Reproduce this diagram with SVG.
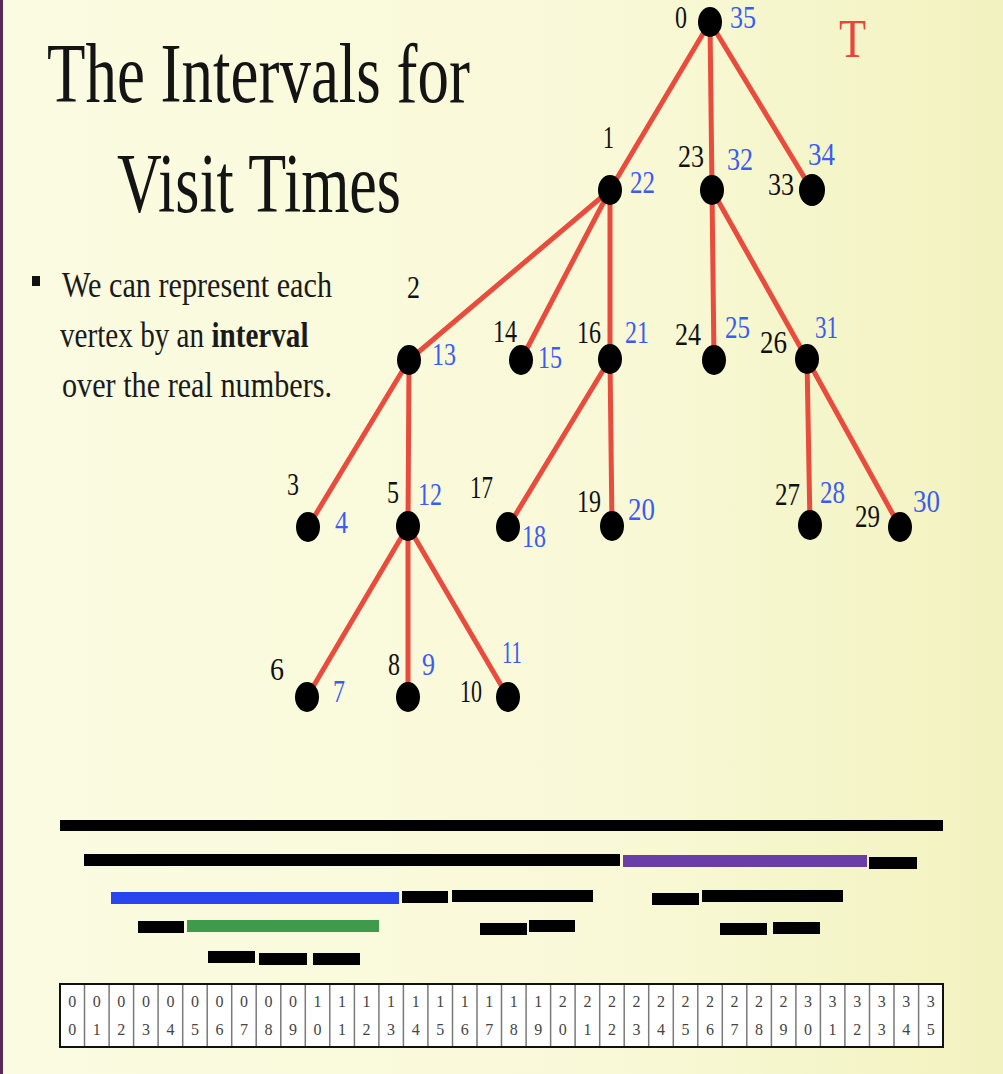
<svg xmlns="http://www.w3.org/2000/svg" width="1003" height="1074" viewBox="0 0 1003 1074">
<defs>
<linearGradient id="bg" x1="0" y1="0" x2="1" y2="0">
<stop offset="0" stop-color="#fbfbe2"/>
<stop offset="0.6" stop-color="#f9f9d8"/>
<stop offset="1" stop-color="#f2f2c0"/>
</linearGradient>
<style>
.title{font-family:"Liberation Serif",serif;font-size:84px;fill:#141414}
.body{font-family:"Liberation Serif",serif;font-size:36px;fill:#1a1a1a}
.pre{font-family:"Liberation Serif",serif;font-size:31px;fill:#111}
.post{font-family:"Liberation Serif",serif;font-size:31px;fill:#3a5cf0}
.edge{stroke:#e94b3c;stroke-width:5;stroke-linecap:round;fill:none}
.node{fill:#000}
.bar{fill:#000}
.dg{font-family:"Liberation Serif",serif;font-size:16px;fill:#444;text-anchor:middle}
</style>
</defs>
<rect x="0" y="0" width="1003" height="1074" fill="url(#bg)"/>
<rect x="0" y="0" width="3" height="1074" fill="#5a2a5a"/>

<g id="title">
<text class="title" x="47" y="102" textLength="423" lengthAdjust="spacingAndGlyphs">The Intervals for</text>
<text class="title" x="117" y="212" textLength="284" lengthAdjust="spacingAndGlyphs">Visit Times</text>
</g>
<g id="bullet">
<rect x="32" y="276" width="8" height="10" fill="#111"/>
<text class="body" x="62" y="297" textLength="270" lengthAdjust="spacingAndGlyphs">We can represent each</text>
<text class="body" transform="translate(60,347) scale(0.81,1)" x="0" y="0">vertex by an <tspan font-weight="bold">interval</tspan></text>
<text class="body" x="62" y="397" textLength="270" lengthAdjust="spacingAndGlyphs">over the real numbers.</text>
</g>
<text x="839" y="57" font-family="Liberation Serif, serif" font-size="54" fill="#e8463a" textLength="27" lengthAdjust="spacingAndGlyphs">T</text>

<g id="connectors">
<line class="edge" x1="710" y1="22" x2="610" y2="190"/>
<line class="edge" x1="710" y1="22" x2="712" y2="190"/>
<line class="edge" x1="710" y1="22" x2="812" y2="190"/>
<line class="edge" x1="610" y1="190" x2="409" y2="360"/>
<line class="edge" x1="610" y1="190" x2="521" y2="360"/>
<line class="edge" x1="610" y1="190" x2="610" y2="359"/>
<line class="edge" x1="712" y1="190" x2="714" y2="360"/>
<line class="edge" x1="712" y1="190" x2="807" y2="359"/>
<line class="edge" x1="409" y1="360" x2="308" y2="527"/>
<line class="edge" x1="409" y1="360" x2="408" y2="526"/>
<line class="edge" x1="610" y1="359" x2="508" y2="527"/>
<line class="edge" x1="610" y1="359" x2="612" y2="526"/>
<line class="edge" x1="807" y1="359" x2="810" y2="525"/>
<line class="edge" x1="807" y1="359" x2="900" y2="527"/>
<line class="edge" x1="408" y1="526" x2="307" y2="697"/>
<line class="edge" x1="408" y1="526" x2="408" y2="697"/>
<line class="edge" x1="408" y1="526" x2="508" y2="697"/>
</g>

<g id="n0"><ellipse class="node" cx="710" cy="22" rx="12" ry="15"/><text class="pre" x="675" y="28" textLength="12" lengthAdjust="spacingAndGlyphs">0</text><text class="post" x="730" y="28" textLength="26" lengthAdjust="spacingAndGlyphs">35</text></g>
<g id="n1"><ellipse class="node" cx="610" cy="190" rx="12" ry="15"/><text class="pre" x="603" y="148" textLength="11" lengthAdjust="spacingAndGlyphs">1</text><text class="post" x="630" y="193" textLength="25" lengthAdjust="spacingAndGlyphs">22</text></g>
<g id="n23"><ellipse class="node" cx="712" cy="190" rx="12" ry="15"/><text class="pre" x="678" y="167" textLength="26" lengthAdjust="spacingAndGlyphs">23</text><text class="post" x="727" y="170" textLength="26" lengthAdjust="spacingAndGlyphs">32</text></g>
<g id="n33"><ellipse class="node" cx="812" cy="190" rx="13" ry="16"/><text class="pre" x="768" y="195" textLength="26" lengthAdjust="spacingAndGlyphs">33</text><text class="post" x="808" y="165" textLength="27" lengthAdjust="spacingAndGlyphs">34</text></g>
<g id="n2"><ellipse class="node" cx="409" cy="360" rx="12" ry="15"/><text class="pre" x="407" y="298" textLength="13" lengthAdjust="spacingAndGlyphs">2</text><text class="post" x="432" y="365" textLength="24" lengthAdjust="spacingAndGlyphs">13</text></g>
<g id="n14"><ellipse class="node" cx="521" cy="360" rx="12" ry="15"/><text class="pre" x="493" y="342" textLength="24" lengthAdjust="spacingAndGlyphs">14</text><text class="post" x="538" y="368" textLength="24" lengthAdjust="spacingAndGlyphs">15</text></g>
<g id="n16"><ellipse class="node" cx="610" cy="359" rx="12" ry="15"/><text class="pre" x="577" y="343" textLength="24" lengthAdjust="spacingAndGlyphs">16</text><text class="post" x="625" y="343" textLength="24" lengthAdjust="spacingAndGlyphs">21</text></g>
<g id="n24"><ellipse class="node" cx="714" cy="360" rx="12" ry="15"/><text class="pre" x="675" y="345" textLength="26" lengthAdjust="spacingAndGlyphs">24</text><text class="post" x="725" y="338" textLength="25" lengthAdjust="spacingAndGlyphs">25</text></g>
<g id="n26"><ellipse class="node" cx="807" cy="359" rx="12" ry="15"/><text class="pre" x="760" y="353" textLength="27" lengthAdjust="spacingAndGlyphs">26</text><text class="post" x="815" y="338" textLength="23" lengthAdjust="spacingAndGlyphs">31</text></g>
<g id="n3"><ellipse class="node" cx="308" cy="527" rx="12" ry="15"/><text class="pre" x="287" y="495" textLength="12" lengthAdjust="spacingAndGlyphs">3</text><text class="post" x="335" y="533" textLength="13" lengthAdjust="spacingAndGlyphs">4</text></g>
<g id="n5"><ellipse class="node" cx="408" cy="526" rx="12" ry="15"/><text class="pre" x="387" y="503" textLength="12" lengthAdjust="spacingAndGlyphs">5</text><text class="post" x="418" y="505" textLength="24" lengthAdjust="spacingAndGlyphs">12</text></g>
<g id="n17"><ellipse class="node" cx="508" cy="527" rx="12" ry="15"/><text class="pre" x="470" y="498" textLength="23" lengthAdjust="spacingAndGlyphs">17</text><text class="post" x="522" y="547" textLength="24" lengthAdjust="spacingAndGlyphs">18</text></g>
<g id="n19"><ellipse class="node" cx="612" cy="526" rx="12" ry="15"/><text class="pre" x="577" y="512" textLength="24" lengthAdjust="spacingAndGlyphs">19</text><text class="post" x="628" y="520" textLength="27" lengthAdjust="spacingAndGlyphs">20</text></g>
<g id="n27"><ellipse class="node" cx="810" cy="525" rx="12" ry="15"/><text class="pre" x="775" y="505" textLength="25" lengthAdjust="spacingAndGlyphs">27</text><text class="post" x="820" y="503" textLength="25" lengthAdjust="spacingAndGlyphs">28</text></g>
<g id="n29"><ellipse class="node" cx="900" cy="527" rx="12" ry="15"/><text class="pre" x="855" y="527" textLength="25" lengthAdjust="spacingAndGlyphs">29</text><text class="post" x="913" y="512" textLength="27" lengthAdjust="spacingAndGlyphs">30</text></g>
<g id="n6"><ellipse class="node" cx="307" cy="697" rx="12" ry="15"/><text class="pre" x="270" y="680" textLength="14" lengthAdjust="spacingAndGlyphs">6</text><text class="post" x="333" y="702" textLength="12" lengthAdjust="spacingAndGlyphs">7</text></g>
<g id="n8"><ellipse class="node" cx="408" cy="697" rx="12" ry="15"/><text class="pre" x="388" y="675" textLength="12" lengthAdjust="spacingAndGlyphs">8</text><text class="post" x="422" y="675" textLength="13" lengthAdjust="spacingAndGlyphs">9</text></g>
<g id="n10"><ellipse class="node" cx="508" cy="697" rx="12" ry="15"/><text class="pre" x="460" y="702" textLength="22" lengthAdjust="spacingAndGlyphs">10</text><text class="post" x="502" y="663" textLength="20" lengthAdjust="spacingAndGlyphs">11</text></g>

<g id="intervals">
<rect class="bar" x="60" y="820" width="883" height="11"/>
<rect class="bar" x="84" y="854" width="536" height="12"/>
<rect x="623" y="855" width="244" height="12" fill="#6a3ea8"/>
<rect class="bar" x="869" y="857" width="48" height="12"/>
<rect x="111" y="892" width="288" height="12" fill="#2a44f0"/>
<rect class="bar" x="402" y="891" width="46" height="12"/>
<rect class="bar" x="452" y="890" width="141" height="12"/>
<rect class="bar" x="652" y="893" width="47" height="12"/>
<rect class="bar" x="702" y="890" width="141" height="12"/>
<rect class="bar" x="138" y="921" width="46" height="12"/>
<rect x="187" y="920" width="192" height="12" fill="#3f9a4c"/>
<rect class="bar" x="480" y="923" width="47" height="12"/>
<rect class="bar" x="529" y="920" width="46" height="12"/>
<rect class="bar" x="720" y="923" width="47" height="12"/>
<rect class="bar" x="773" y="922" width="47" height="12"/>
<rect class="bar" x="208" y="951" width="47" height="12"/>
<rect class="bar" x="259" y="953" width="48" height="12"/>
<rect class="bar" x="313" y="953" width="47" height="12"/>
</g>

<g id="timeline">
<rect x="60" y="984" width="883" height="63" fill="#fff" stroke="#111" stroke-width="2"/>
<path d="M84.5 985V1046M109.1 985V1046M133.6 985V1046M158.1 985V1046M182.7 985V1046M207.2 985V1046M231.7 985V1046M256.2 985V1046M280.8 985V1046M305.3 985V1046M329.8 985V1046M354.4 985V1046M378.9 985V1046M403.4 985V1046M427.9 985V1046M452.5 985V1046M477 985V1046M501.5 985V1046M526.1 985V1046M550.6 985V1046M575.1 985V1046M599.7 985V1046M624.2 985V1046M648.7 985V1046M673.3 985V1046M697.8 985V1046M722.3 985V1046M746.8 985V1046M771.4 985V1046M795.9 985V1046M820.4 985V1046M844.9 985V1046M869.5 985V1046M894 985V1046M918.6 985V1046" stroke="#7a7a7a" stroke-width="1.5" fill="none"/>
<g>
<text class="dg" x="72.3" y="1007">0</text><text class="dg" x="72.3" y="1035">0</text>
<text class="dg" x="96.8" y="1007">0</text><text class="dg" x="96.8" y="1035">1</text>
<text class="dg" x="121.3" y="1007">0</text><text class="dg" x="121.3" y="1035">2</text>
<text class="dg" x="145.9" y="1007">0</text><text class="dg" x="145.9" y="1035">3</text>
<text class="dg" x="170.4" y="1007">0</text><text class="dg" x="170.4" y="1035">4</text>
<text class="dg" x="194.9" y="1007">0</text><text class="dg" x="194.9" y="1035">5</text>
<text class="dg" x="219.4" y="1007">0</text><text class="dg" x="219.4" y="1035">6</text>
<text class="dg" x="244" y="1007">0</text><text class="dg" x="244" y="1035">7</text>
<text class="dg" x="268.5" y="1007">0</text><text class="dg" x="268.5" y="1035">8</text>
<text class="dg" x="293" y="1007">0</text><text class="dg" x="293" y="1035">9</text>
<text class="dg" x="317.6" y="1007">1</text><text class="dg" x="317.6" y="1035">0</text>
<text class="dg" x="342.1" y="1007">1</text><text class="dg" x="342.1" y="1035">1</text>
<text class="dg" x="366.6" y="1007">1</text><text class="dg" x="366.6" y="1035">2</text>
<text class="dg" x="391.1" y="1007">1</text><text class="dg" x="391.1" y="1035">3</text>
<text class="dg" x="415.7" y="1007">1</text><text class="dg" x="415.7" y="1035">4</text>
<text class="dg" x="440.2" y="1007">1</text><text class="dg" x="440.2" y="1035">5</text>
<text class="dg" x="464.7" y="1007">1</text><text class="dg" x="464.7" y="1035">6</text>
<text class="dg" x="489.3" y="1007">1</text><text class="dg" x="489.3" y="1035">7</text>
<text class="dg" x="513.8" y="1007">1</text><text class="dg" x="513.8" y="1035">8</text>
<text class="dg" x="538.3" y="1007">1</text><text class="dg" x="538.3" y="1035">9</text>
<text class="dg" x="562.8" y="1007">2</text><text class="dg" x="562.8" y="1035">0</text>
<text class="dg" x="587.4" y="1007">2</text><text class="dg" x="587.4" y="1035">1</text>
<text class="dg" x="611.9" y="1007">2</text><text class="dg" x="611.9" y="1035">2</text>
<text class="dg" x="636.4" y="1007">2</text><text class="dg" x="636.4" y="1035">3</text>
<text class="dg" x="661" y="1007">2</text><text class="dg" x="661" y="1035">4</text>
<text class="dg" x="685.5" y="1007">2</text><text class="dg" x="685.5" y="1035">5</text>
<text class="dg" x="710" y="1007">2</text><text class="dg" x="710" y="1035">6</text>
<text class="dg" x="734.5" y="1007">2</text><text class="dg" x="734.5" y="1035">7</text>
<text class="dg" x="759.1" y="1007">2</text><text class="dg" x="759.1" y="1035">8</text>
<text class="dg" x="783.6" y="1007">2</text><text class="dg" x="783.6" y="1035">9</text>
<text class="dg" x="808.1" y="1007">3</text><text class="dg" x="808.1" y="1035">0</text>
<text class="dg" x="832.6" y="1007">3</text><text class="dg" x="832.6" y="1035">1</text>
<text class="dg" x="857.2" y="1007">3</text><text class="dg" x="857.2" y="1035">2</text>
<text class="dg" x="881.7" y="1007">3</text><text class="dg" x="881.7" y="1035">3</text>
<text class="dg" x="906.2" y="1007">3</text><text class="dg" x="906.2" y="1035">4</text>
<text class="dg" x="930.7" y="1007">3</text><text class="dg" x="930.7" y="1035">5</text>
</g>
</g>
</svg>
